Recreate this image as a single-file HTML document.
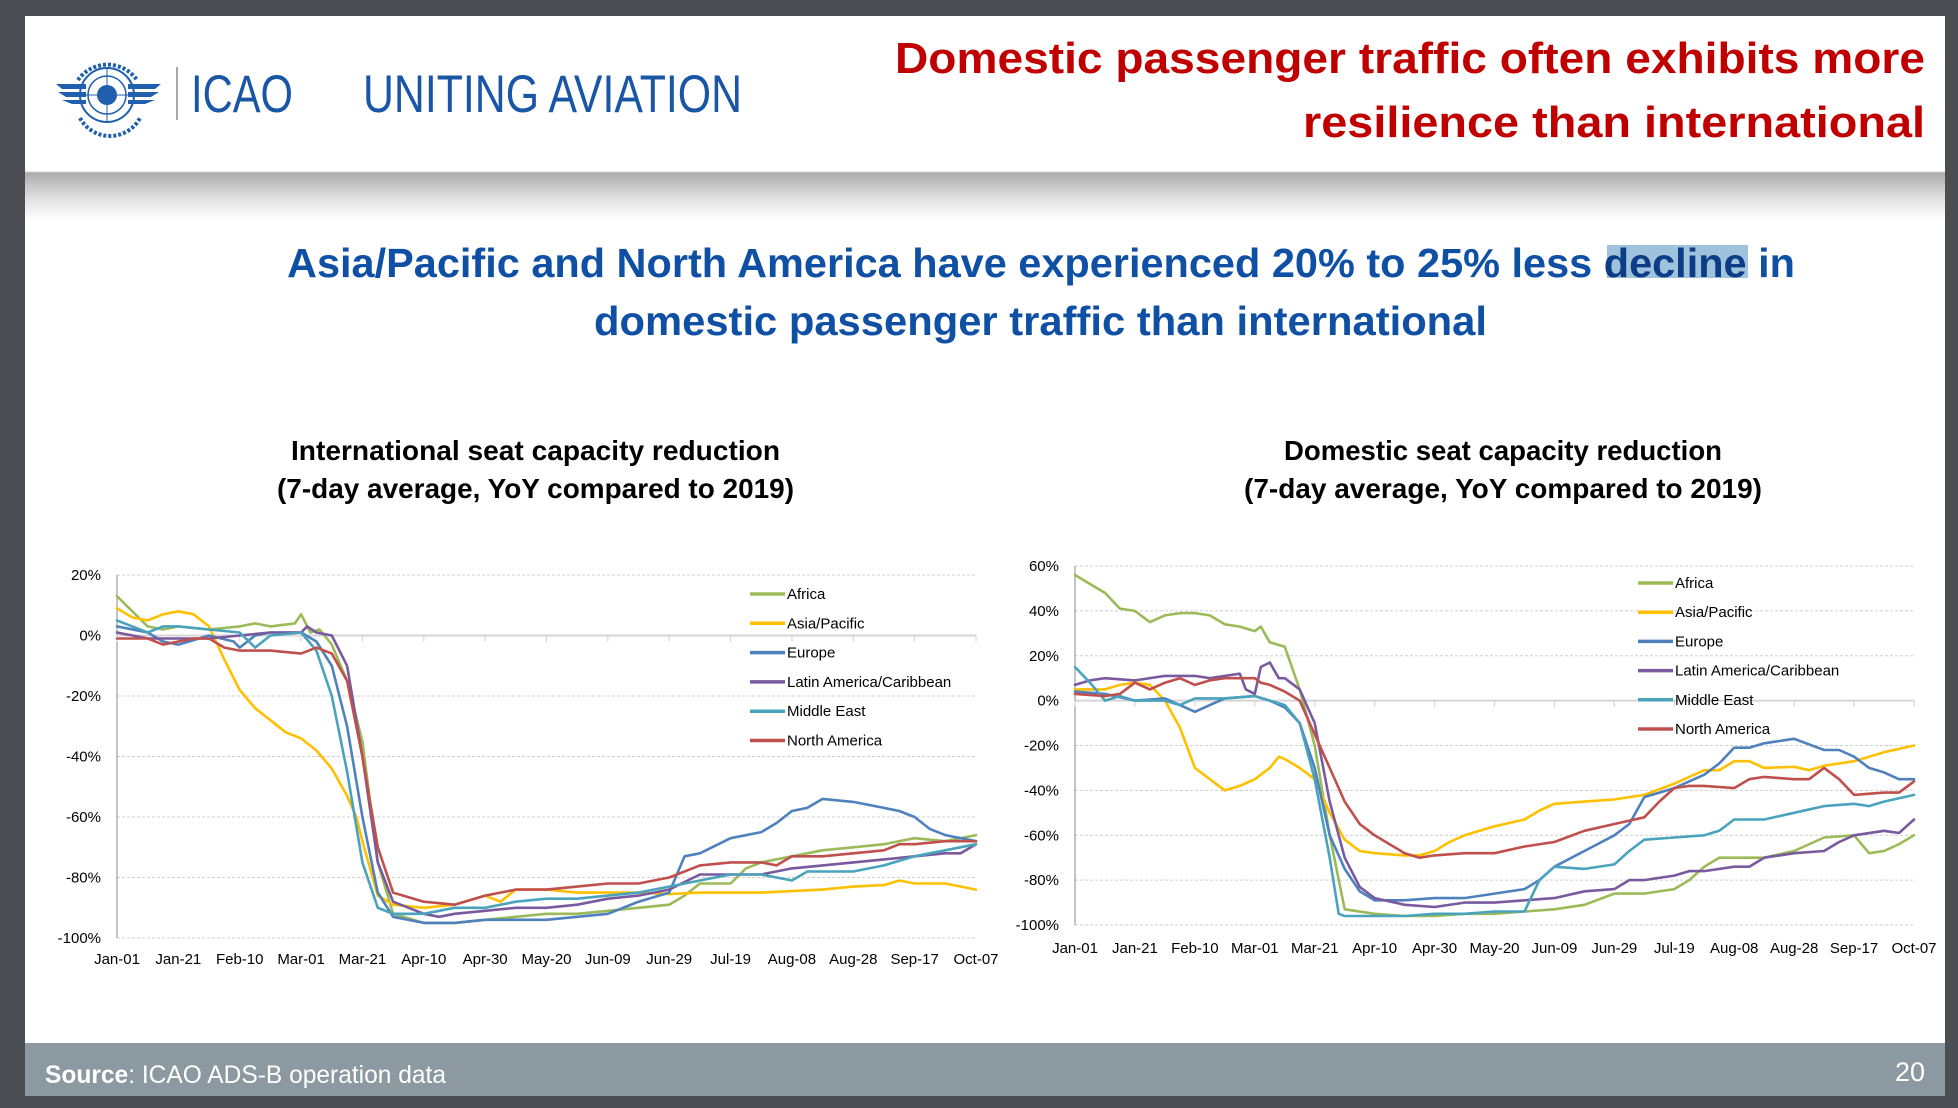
<!DOCTYPE html>
<html><head><meta charset="utf-8"><title>ICAO - Domestic vs International</title>
<style>
html,body{margin:0;padding:0;background:#4b4f53;}
body{width:1958px;height:1108px;overflow:hidden;}
svg{display:block;}
text{font-family:"Liberation Sans",sans-serif;}
.nar{font-family:"Liberation Sans Narrow","Liberation Sans",sans-serif;}
</style></head>
<body>
<svg id="slide" width="1958" height="1108" viewBox="0 0 1958 1108" xmlns="http://www.w3.org/2000/svg">
<defs>
<linearGradient id="shade" x1="0" y1="0" x2="0" y2="1">
<stop offset="0" stop-color="#a9a9a9"/><stop offset="0.5" stop-color="#dcdcdc"/><stop offset="1" stop-color="#ffffff"/>
</linearGradient>
</defs>
<rect x="25" y="16" width="1920" height="1080" fill="#ffffff"/>
<rect x="25" y="172" width="1920" height="48" fill="url(#shade)"/>
<line x1="25" y1="172" x2="1945" y2="172" stroke="#cfcfcf" stroke-width="1"/>
<g>
<circle cx="107" cy="95" r="27" fill="none" stroke="#1f5fae" stroke-width="2"/>
<circle cx="107" cy="95" r="19" fill="none" stroke="#1f5fae" stroke-width="1.5"/>
<circle cx="107" cy="95" r="10" fill="#1f5fae"/>
<line x1="80" y1="95" x2="134" y2="95" stroke="#1f5fae" stroke-width="1"/>
<line x1="107" y1="68" x2="107" y2="122" stroke="#1f5fae" stroke-width="1"/>
<path d="M56 84 L86 84 L86 89 L62 89 Z M58 92 L86 92 L86 97 L66 97 Z M62 100 L86 100 L86 104 L72 104 Z" fill="#1f5fae"/>
<path d="M161 84 L128 84 L128 89 L155 89 Z M159 92 L128 92 L128 97 L151 97 Z M155 100 L128 100 L128 104 L145 104 Z" fill="#1f5fae"/>
<path d="M78 80 A36 36 0 0 1 137 80" fill="none" stroke="#1f5fae" stroke-width="4" stroke-dasharray="3 2"/>
<path d="M80 118 A34 34 0 0 0 140 118" fill="none" stroke="#1f5fae" stroke-width="4" stroke-dasharray="3 2"/>
</g>
<line x1="177" y1="67" x2="177" y2="120" stroke="#8a8a8a" stroke-width="1.5"/>
<text x="191" y="112" font-size="53" fill="#1a56a6" textLength="102" lengthAdjust="spacingAndGlyphs">ICAO</text>
<text x="363" y="112" font-size="53" fill="#1a56a6" textLength="379" lengthAdjust="spacingAndGlyphs">UNITING AVIATION</text>
<g font-weight="bold" fill="#c00000" font-size="44">
<text x="1925" y="73" text-anchor="end" textLength="1030" lengthAdjust="spacingAndGlyphs">Domestic passenger traffic often exhibits more</text>
<text x="1925" y="137" text-anchor="end" textLength="622" lengthAdjust="spacingAndGlyphs">resilience than international</text>
</g>
<rect x="1607" y="245" width="141" height="33" fill="#9fc3dc"/>
<g font-weight="bold" fill="#0f50a5" font-size="41">
<text x="287" y="277" textLength="1508" lengthAdjust="spacingAndGlyphs">Asia/Pacific and North America have experienced 20% to 25% less <tspan fill="#0b3c85">decline</tspan> in</text>
<text x="594" y="335" textLength="893" lengthAdjust="spacingAndGlyphs">domestic passenger traffic than international</text>
</g>
<g font-weight="bold" fill="#000" font-size="28">
<text x="291" y="460" textLength="489" lengthAdjust="spacingAndGlyphs">International seat capacity reduction</text>
<text x="277" y="498" textLength="517" lengthAdjust="spacingAndGlyphs">(7-day average, YoY compared to 2019)</text>
</g>
<g font-weight="bold" fill="#000" font-size="28">
<text x="1284" y="460" textLength="438" lengthAdjust="spacingAndGlyphs">Domestic seat capacity reduction</text>
<text x="1244" y="498" textLength="518" lengthAdjust="spacingAndGlyphs">(7-day average, YoY compared to 2019)</text>
</g>
<g id="intl-chart"></g>
<g id="dom-chart"></g>
<rect x="25" y="1043" width="1920" height="53" fill="#8c99a1"/>
<text x="45" y="1083" font-size="25" fill="#ffffff" textLength="401" lengthAdjust="spacingAndGlyphs"><tspan font-weight="bold">Source</tspan>: ICAO ADS-B operation data</text>
<text x="1925" y="1081" font-size="27" fill="#ffffff" text-anchor="end">20</text>
</svg>
<script>
// ---- shared categories ----
const tickLabels = ["Jan-01","Jan-21","Feb-10","Mar-01","Mar-21","Apr-10","Apr-30","May-20","Jun-09","Jun-29","Jul-19","Aug-08","Aug-28","Sep-17","Oct-07"];
const tickDays = [0,20,40,60,80,100,120,140,160,180,200,220,240,260,280];
const seriesNames = ["Africa","Asia/Pacific","Europe","Latin America/Caribbean","Middle East","North America"];
const intlYTicks = [20,0,-20,-40,-60,-80,-100];
const domYTicks = [60,40,20,0,-20,-40,-60,-80,-100];

// ---- International series: [day, % YoY] ----
const intlAfrica = [[0,13],[5,8],[10,3],[15,2],[20,3],[30,2],[40,3],[45,4],[50,3],[58,4],[60,7],[63,1],[66,2],[70,-3],[75,-15],[80,-35],[85,-75],[90,-92],[100,-95],[110,-95],[120,-94],[130,-93],[140,-92],[150,-92],[160,-91],[170,-90],[180,-89],[185,-86],[190,-82],[200,-82],[205,-77],[210,-75],[220,-73],[230,-71],[240,-70],[250,-69],[260,-67],[270,-68],[280,-66]];
const intlAsia = [[0,9],[5,6],[10,5],[15,7],[20,8],[25,7],[30,3],[35,-8],[40,-18],[45,-24],[50,-28],[55,-32],[60,-34],[65,-38],[70,-44],[75,-53],[78,-60],[80,-68],[85,-86],[90,-89],[100,-90],[110,-89],[120,-86],[125,-88],[130,-84],[140,-84],[150,-85],[160,-85],[170,-85],[180,-85.5],[190,-85],[200,-85],[210,-85],[220,-84.5],[230,-84],[240,-83],[250,-82.5],[255,-81],[260,-82],[270,-82],[280,-84]];
const intlEurope = [[0,3],[10,1],[15,-2],[20,-3],[30,0],[38,-2],[40,-4],[45,0],[50,1],[60,1],[65,-2],[70,-10],[75,-30],[80,-60],[85,-85],[90,-93],[100,-95],[110,-95],[120,-94],[130,-94],[140,-94],[150,-93],[160,-92],[170,-88],[180,-85],[185,-73],[190,-72],[200,-67],[210,-65],[215,-62],[220,-58],[225,-57],[230,-54],[240,-55],[250,-57],[255,-58],[260,-60],[265,-64],[270,-66],[280,-68]];
const intlLatin = [[0,1],[10,-1],[20,-1],[30,-1],[40,0],[50,1],[60,1],[62,3],[65,1],[70,0],[75,-10],[80,-40],[85,-75],[90,-88],[100,-92],[105,-93],[110,-92],[120,-91],[130,-90],[140,-90],[150,-89],[160,-87],[170,-86],[180,-84],[190,-79],[200,-79],[210,-79],[220,-77],[230,-76],[240,-75],[250,-74],[260,-73],[270,-72],[275,-72],[280,-69]];
const intlMiddleEast = [[0,5],[10,1],[15,3],[20,3],[30,2],[40,1],[45,-4],[50,0],[60,1],[65,-5],[70,-20],[75,-45],[80,-75],[85,-90],[90,-92],[100,-92],[110,-90],[120,-90],[130,-88],[140,-87],[150,-87],[160,-86],[170,-85],[180,-83],[190,-81],[200,-79],[210,-79],[220,-81],[225,-78],[230,-78],[240,-78],[250,-76],[260,-73],[270,-71],[280,-69]];
const intlNorthAm = [[0,-1],[10,-1],[15,-3],[20,-2],[25,-1],[30,-1],[35,-4],[40,-5],[50,-5],[60,-6],[65,-4],[70,-6],[75,-15],[80,-40],[85,-70],[90,-85],[100,-88],[110,-89],[120,-86],[130,-84],[140,-84],[150,-83],[160,-82],[170,-82],[180,-80],[190,-76],[200,-75],[210,-75],[215,-76],[220,-73],[230,-73],[240,-72],[250,-71],[255,-69],[260,-69],[270,-68],[280,-68]];

// ---- Domestic series: [day, % YoY] ----
const domAfrica = [[0,56],[5,52],[10,48],[15,41],[20,40],[25,35],[30,38],[35,39],[40,39],[45,38],[50,34],[55,33],[60,31],[62,33],[65,26],[70,24],[75,5],[80,-20],[85,-60],[90,-93],[100,-95],[110,-96],[120,-96],[130,-95],[140,-95],[150,-94],[160,-93],[170,-91],[180,-86],[190,-86],[200,-84],[205,-80],[210,-74],[215,-70],[220,-70],[230,-70],[240,-67],[250,-61],[260,-60],[265,-68],[270,-67],[275,-64],[280,-60]];
const domAsia = [[0,5],[10,5],[15,7],[20,8],[25,7],[30,0],[35,-12],[40,-30],[45,-35],[50,-40],[55,-38],[60,-35],[65,-30],[68,-25],[70,-26],[75,-30],[80,-35],[85,-50],[90,-62],[95,-67],[100,-68],[110,-69],[115,-69],[120,-67],[125,-63],[130,-60],[140,-56],[150,-53],[155,-49],[160,-46],[170,-45],[180,-44],[190,-42],[200,-37],[210,-31],[215,-31],[220,-27],[225,-27],[230,-30],[240,-29.5],[245,-31],[250,-29],[260,-27],[270,-23],[280,-20]];
const domEurope = [[0,4],[10,3],[20,0],[30,1],[35,-2],[40,-5],[45,-2],[50,1],[60,2],[65,0],[70,-3],[75,-10],[80,-30],[85,-60],[90,-75],[95,-85],[100,-89],[110,-89],[120,-88],[130,-88],[140,-86],[150,-84],[155,-80],[160,-74],[170,-67],[180,-60],[185,-55],[190,-43],[200,-39],[210,-33],[215,-28],[220,-21],[225,-21],[230,-19],[240,-17],[250,-22],[255,-22],[260,-25],[265,-30],[270,-32],[275,-35],[280,-35]];
const domLatin = [[0,7],[5,9],[10,10],[20,9],[30,11],[40,11],[45,10],[50,11],[55,12],[57,5],[60,3],[62,15],[65,17],[68,10],[70,10],[75,5],[80,-10],[85,-45],[90,-70],[95,-83],[100,-88],[110,-91],[120,-92],[130,-90],[140,-90],[150,-89],[160,-88],[170,-85],[180,-84],[185,-80],[190,-80],[200,-78],[205,-76],[210,-76],[220,-74],[225,-74],[230,-70],[240,-68],[250,-67],[255,-63],[260,-60],[270,-58],[275,-59],[280,-53]];
const domMiddleEast = [[0,15],[5,8],[10,0],[15,2],[20,0],[30,0],[35,-2],[40,1],[50,1],[60,2],[65,0],[70,-2],[75,-10],[80,-35],[85,-70],[88,-95],[90,-96],[100,-96],[110,-96],[120,-95],[130,-95],[140,-94],[150,-94],[155,-80],[160,-74],[170,-75],[180,-73],[185,-67],[190,-62],[200,-61],[210,-60],[215,-58],[220,-53],[230,-53],[240,-50],[250,-47],[260,-46],[265,-47],[270,-45],[280,-42]];
const domNorthAm = [[0,3],[10,2],[15,3],[20,8],[25,5],[30,8],[35,10],[40,7],[45,9],[50,10],[55,10],[60,10],[62,8],[65,7],[70,4],[75,0],[80,-15],[85,-30],[90,-45],[95,-55],[100,-60],[105,-64],[110,-68],[115,-70],[120,-69],[130,-68],[140,-68],[150,-65],[160,-63],[170,-58],[180,-55],[190,-52],[195,-45],[200,-39],[205,-38],[210,-38],[220,-39],[225,-35],[230,-34],[240,-35],[245,-35],[250,-30],[255,-35],[260,-42],[270,-41],[275,-41],[280,-36]];

const colors = ["#9bbb59","#ffc000","#4f81bd","#7a5a9e","#4aa3bd","#c0504d"];
const NS = "http://www.w3.org/2000/svg";

function mk(tag, attrs, parent){
  const el = document.createElementNS(NS, tag);
  for (const k in attrs) el.setAttribute(k, attrs[k]);
  parent.appendChild(el);
  return el;
}

function drawChart(g, cfg, series, yTicks, prefix){
  const xS = d => cfg.x0 + (d - 0) / 280 * (cfg.x1 - cfg.x0);
  const yS = v => cfg.yTop + (cfg.vMax - v) / (cfg.vMax - cfg.vMin) * (cfg.yBot - cfg.yTop);
  // gridlines + y labels
  yTicks.forEach(v => {
    const y = yS(v);
    const gl = mk("line", {x1:cfg.x0, x2:cfg.x1, y1:y, y2:y, stroke: v===0 ? "#d6d6d6" : "#cfcfcf", "stroke-width": v===0 ? 2 : 1, "stroke-dasharray": v===0 ? "" : "3 2"}, g);
    
    
    const t = mk("text", {x: cfg.x0 - 16, y: y + 5, "font-size": 15, "text-anchor":"end", fill:"#000"}, g);
    t.textContent = v + "%";
    
    
  });
  // y axis
  const ax = mk("line", {x1:cfg.x0, x2:cfg.x0, y1:cfg.yTop, y2:cfg.yBot, stroke:"#888", "stroke-width":1}, g);
  
  
  // x ticks on zero line + labels
  tickDays.forEach((d, i) => {
    const x = xS(d);
    const tk = mk("line", {x1:x, x2:x, y1:yS(0), y2:yS(0)+6, stroke:"#d0d0d0", "stroke-width":1}, g);
    
    
    const t = mk("text", {x:x, y:cfg.labelY, "font-size":15, "text-anchor":"middle", fill:"#000"}, g);
    t.textContent = tickLabels[i];
    
    
  });
  // series lines
  series.forEach((s, i) => {
    const pts = s.map(p => xS(p[0]).toFixed(1) + "," + yS(p[1]).toFixed(1)).join(" ");
    const pl = mk("polyline", {points:pts, fill:"none", stroke:colors[i], "stroke-width":2.6, "stroke-linejoin":"round", "stroke-linecap":"round"}, g);
    
    
  });
  // legend
  seriesNames.forEach((n, i) => {
    const y = cfg.legY + i * cfg.legStep;
    const ll = mk("line", {x1:cfg.legX, x2:cfg.legX+35, y1:y, y2:y, stroke:colors[i], "stroke-width":3.5}, g);
    
    
    const t = mk("text", {x:cfg.legX+37, y:y+5, "font-size":15, fill:"#000"}, g);
    t.textContent = n;
    
    
  });
}

drawChart(document.getElementById("intl-chart"),
  {x0:117, x1:976, yTop:575, yBot:938, vMax:20, vMin:-100, labelY:964, legX:750, legY:594, legStep:29.3},
  [intlAfrica, intlAsia, intlEurope, intlLatin, intlMiddleEast, intlNorthAm], intlYTicks, "intl");
drawChart(document.getElementById("dom-chart"),
  {x0:1075, x1:1914, yTop:566, yBot:925, vMax:60, vMin:-100, labelY:953, legX:1638, legY:583, legStep:29.2},
  [domAfrica, domAsia, domEurope, domLatin, domMiddleEast, domNorthAm], domYTicks, "dom");
</script>
</body></html>
